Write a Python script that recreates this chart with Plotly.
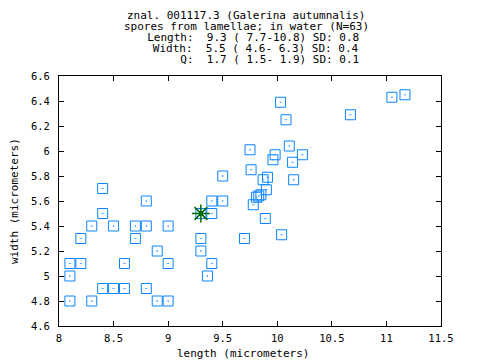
import plotly.graph_objects as go

# spore measurements (micrometers)
length = [8.4, 8.8, 8.4, 8.3, 8.5, 8.7, 8.8, 9.0, 8.2, 8.7, 8.9, 8.1, 8.2, 8.6, 9.0,
          8.1, 8.4, 8.5, 8.6, 8.8, 8.1, 8.3, 8.9, 9.0,
          9.3, 9.4, 9.4, 9.5, 9.5, 9.3, 9.3, 9.4, 9.36, 9.7, 10.04, 9.89, 9.78,
          9.81, 9.83, 9.85, 9.9, 9.87, 9.91, 10.15, 9.76, 9.96, 10.14, 9.75, 9.98,
          10.11, 10.23, 10.08, 10.03, 10.67, 11.05, 11.17]
width = [5.7, 5.6, 5.5, 5.4, 5.4, 5.4, 5.4, 5.4, 5.3, 5.3, 5.2, 5.1, 5.1, 5.1, 5.1,
         5.0, 4.9, 4.9, 4.9, 4.9, 4.8, 4.8, 4.8, 4.8,
         5.5, 5.5, 5.6, 5.6, 5.8, 5.3, 5.2, 5.1, 5.0, 5.3, 5.33, 5.46, 5.57,
         5.63, 5.64, 5.65, 5.69, 5.77, 5.79, 5.77, 5.85, 5.93, 5.91, 6.01, 5.97,
         6.04, 5.97, 6.25, 6.39, 6.29, 6.43, 6.45]
mean_length = [9.3]
mean_width = [5.5]

title_lines = [
    "znal. 001117.3 (Galerina autumnalis)",
    "spores from lamellae; in water (N=63)",
    "  Length:  9.3 ( 7.7-10.8) SD: 0.8",
    "   Width:  5.5 ( 4.6- 6.3) SD: 0.4",
    "       Q:  1.7 ( 1.5- 1.9) SD: 0.1",
]
x_ticks = [8, 8.5, 9, 9.5, 10, 10.5, 11, 11.5]
x_tick_labels = ["8", "8.5", "9", "9.5", "10", "10.5", "11", "11.5"]
y_ticks = [4.6, 4.8, 5.0, 5.2, 5.4, 5.6, 5.8, 6.0, 6.2, 6.4, 6.6]
y_tick_labels = ["4.6", "4.8", "5", "5.2", "5.4", "5.6", "5.8", "6", "6.2", "6.4", "6.6"]
x_title = "length (micrometers)"
y_title = "width (micrometers)"

FONT = "DejaVu Sans Mono"
BLUE = "#0a84ff"
GREEN = "#006400"

fig = go.Figure()
fig.add_trace(go.Scatter(
    x=length, y=width, mode="markers",
    marker=dict(symbol="square-open-dot", size=10, color=BLUE, line=dict(width=1, color=BLUE)),
    hoverinfo="skip", showlegend=False))
fig.add_trace(go.Scatter(
    x=mean_length, y=mean_width, mode="markers",
    marker=dict(symbol="asterisk-open", size=15, color=GREEN, line=dict(width=1.5, color=GREEN)),
    hoverinfo="skip", showlegend=False))
fig.add_trace(go.Scatter(
    x=mean_length, y=mean_width, mode="markers",
    marker=dict(symbol="circle", size=4, color=GREEN),
    hoverinfo="skip", showlegend=False))

OFF = 8  # default page body margin
W, H = 480 - OFF, 360 - OFF
# plot area in page pixels: x 59..441, y 76..326
L, R, T, B = 59 - OFF, 480 - 441, 76 - OFF, 360 - 326
pw, ph = W - L - R, H - T - B


def px_x(page_x):
    return (page_x - OFF - L) / pw


def px_y(page_y):
    return 1 - (page_y - OFF - T) / ph


axis_common = dict(showgrid=False, zeroline=False, showline=True, linecolor="black",
                   linewidth=1, mirror="ticks", ticks="inside", ticklen=5,
                   tickcolor="black", tickwidth=1,
                   tickfont=dict(family=FONT, size=10.5, color="black"))
fig.update_xaxes(range=[8, 11.5], tickvals=x_ticks, ticktext=x_tick_labels,
                 ticklabelstandoff=2, **axis_common)
fig.update_yaxes(range=[4.6, 6.6], tickvals=y_ticks, ticktext=y_tick_labels,
                 ticklabelstandoff=6, **axis_common)

annotations = []
line_y = [15.5, 26.5, 37.5, 48.5, 59.5]
for txt, py in zip(title_lines, line_y):
    annotations.append(dict(
        text=txt.replace(" ", "\u00a0"), xref="paper", yref="paper",
        x=px_x(246), y=px_y(py), xanchor="center", yanchor="middle",
        showarrow=False, font=dict(family=FONT, size=11, color="black")))
annotations.append(dict(
    text=x_title.replace(" ", "\u00a0"), xref="paper", yref="paper",
    x=px_x(243), y=px_y(353), xanchor="center", yanchor="middle",
    showarrow=False, font=dict(family=FONT, size=11, color="black")))
annotations.append(dict(
    text=y_title.replace(" ", "\u00a0"), xref="paper", yref="paper",
    x=px_x(14), y=px_y(201), xanchor="center", yanchor="middle", textangle=-90,
    showarrow=False, font=dict(family=FONT, size=11, color="black")))

fig.update_layout(
    width=W, height=H, margin=dict(l=L, r=R, t=T, b=B),
    paper_bgcolor="white", plot_bgcolor="white",
    annotations=annotations, showlegend=False)

fig.write_html("out.html")
